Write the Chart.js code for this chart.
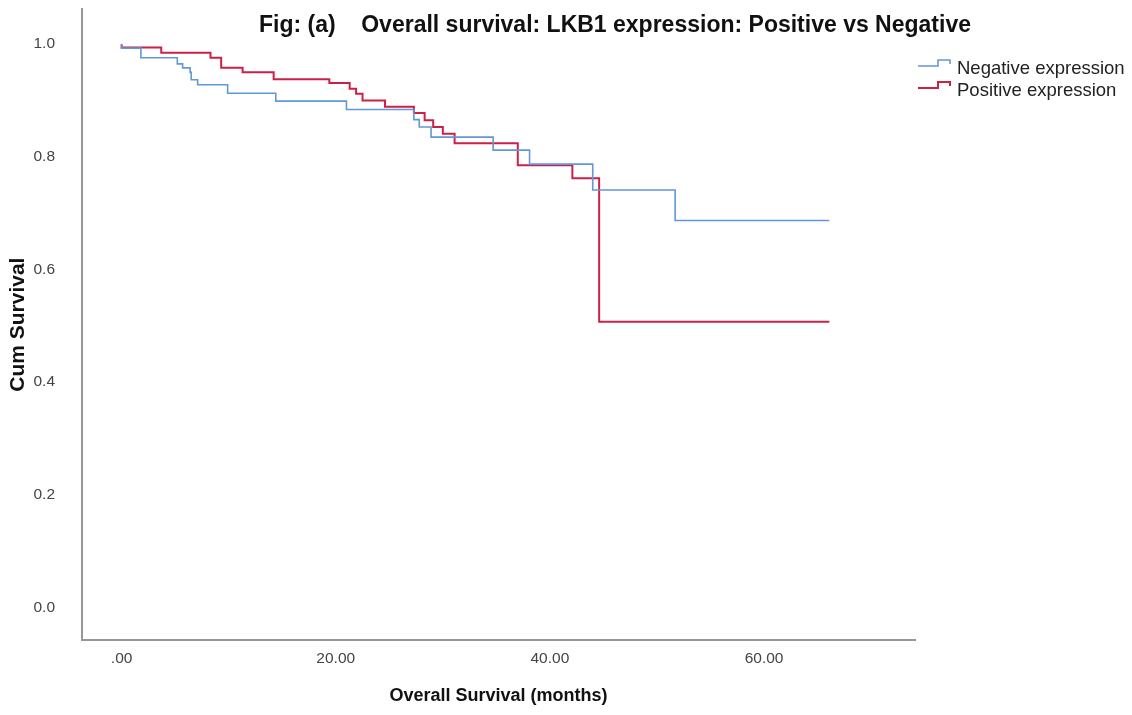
<!DOCTYPE html>
<html>
<head>
<meta charset="utf-8">
<script src="https://cdn.jsdelivr.net/npm/chart.js@4.4.1/dist/chart.umd.min.js"></script>
<style>
  html, body { margin: 0; padding: 0; background: #fff; }
  #wrap { position: relative; width: 1132px; height: 715px; overflow: hidden; }
  #c { position: absolute; left: 0; top: 0; }
  #title { position: absolute; left: 259px; top: 13px; font: bold 23px 'Liberation Sans', Arial, sans-serif; line-height: 23px; color: #111; white-space: pre; }
  .leg { position: absolute; left: 917px; height: 22px; font: 18.5px 'Liberation Sans', Arial, sans-serif; color: #222; white-space: pre; }
  .leg svg { position: absolute; left: 0; top: 0; }
  .leg span { position: absolute; left: 40px; top: 0; line-height: 22px; }
</style>
</head>
<body>
<div id="wrap">
  <canvas id="c" width="1132" height="715"></canvas>
  <div id="title"></div>
  <div id="legend"></div>
</div>
<script>
// ---- data ----
const chartTitle = 'Fig: (a)    Overall survival: LKB1 expression: Positive vs Negative';
const xAxisTitle = 'Overall Survival (months)';
const yAxisTitle = 'Cum Survival';

const seriesNames = ['Negative expression', 'Positive expression'];

// Negative expression: event times (months) and survival after each step
const negTimes = [0, 1.8, 5.2, 5.7, 6.4, 6.5, 7.1, 9.9, 14.4, 21.0, 27.3, 27.8, 28.9, 34.7, 38.1, 44.0, 51.7, 52.6, 66.1];
const negSurv  = [1.0, 0.993, 0.976, 0.965, 0.958, 0.950, 0.937, 0.928, 0.913, 0.899, 0.884, 0.866, 0.853, 0.835, 0.812, 0.787, 0.741, 0.687, 0.687];

// Positive expression
const posTimes = [0, 3.7, 8.3, 9.3, 11.3, 14.2, 19.4, 21.3, 21.9, 22.5, 24.6, 27.3, 28.3, 29.1, 30.0, 31.1, 37.0, 42.1, 44.6, 62.6, 66.1];
const posSurv  = [1.0, 0.994, 0.985, 0.976, 0.958, 0.950, 0.938, 0.931, 0.921, 0.912, 0.900, 0.889, 0.878, 0.865, 0.853, 0.841, 0.824, 0.785, 0.762, 0.507, 0.507];

const xTickValues = [0, 20, 40, 60];
const xTickLabels = ['.00', '20.00', '40.00', '60.00'];
const yTickValues = [0, 0.2, 0.4, 0.6, 0.8, 1.0];
const yTickLabels = ['0.0', '0.2', '0.4', '0.6', '0.8', '1.0'];

const xRange = [-3.7, 74.1];
const yRange = [-0.058, 1.062];

// ---- styles ----
const colors = ['rgb(98,152,214)', 'rgb(204,32,72)'];
const widths = [1.6, 2];
const axisColor = 'rgb(150,150,150)';
const hidden = 'rgba(0,0,0,0)';

function toPoints(xs, ys) { return xs.map((x, i) => ({ x: x, y: ys[i] })); }

const ctx = document.getElementById('c').getContext('2d');
new Chart(ctx, {
  type: 'line',
  data: {
    datasets: [
      { label: seriesNames[0], data: toPoints(negTimes, negSurv), borderColor: colors[0], borderWidth: widths[0],
        stepped: 'after', pointRadius: 0, fill: false, tension: 0 },
      { label: seriesNames[1], data: toPoints(posTimes, posSurv), borderColor: colors[1], borderWidth: widths[1],
        stepped: 'after', pointRadius: 0, fill: false, tension: 0 }
    ]
  },
  options: {
    responsive: false,
    animation: false,
    devicePixelRatio: 1,
    layout: { autoPadding: false, padding: { left: 0, top: 5, right: 217, bottom: 0 } },
    plugins: { legend: { display: false }, title: { display: false }, tooltip: { enabled: false } },
    scales: {
      x: {
        type: 'linear', min: xRange[0], max: xRange[1],
        afterBuildTicks: s => { s.ticks = xTickValues.map(v => ({ value: v })); },
        afterFit: s => { s.height = 75; },
        grid: { display: true, drawOnChartArea: false, drawTicks: true, tickLength: 9, tickColor: hidden },
        border: { display: true, color: axisColor, width: 2 },
        ticks: { padding: 0, color: '#444', font: { family: "'Liberation Sans', Arial", size: 15.5 },
                 callback: v => xTickLabels[xTickValues.indexOf(v)] },
        title: { display: true, text: xAxisTitle, color: '#111',
                 font: { family: "'Liberation Sans', Arial", size: 18, weight: 'bold' }, padding: { top: 4, bottom: 8 } }
      },
      y: {
        type: 'linear', min: yRange[0], max: yRange[1],
        afterBuildTicks: s => { s.ticks = yTickValues.map(v => ({ value: v })); },
        afterFit: s => { s.width = 82; },
        grid: { display: true, drawOnChartArea: false, drawTicks: true, tickLength: 27, tickColor: hidden },
        border: { display: true, color: axisColor, width: 2 },
        ticks: { padding: 0, color: '#444', font: { family: "'Liberation Sans', Arial", size: 15.5 },
                 callback: v => yTickLabels[yTickValues.indexOf(v)] },
        title: { display: true, text: yAxisTitle, color: '#111',
                 font: { family: "'Liberation Sans', Arial", size: 21, weight: 'bold' }, padding: { top: 6, bottom: 4 } }
      }
    }
  }
});

// title and legend as real text
document.getElementById('title').textContent = chartTitle;
const legendTops = [57, 79];
const legend = document.getElementById('legend');
seriesNames.forEach((name, i) => {
  const d = document.createElement('div');
  d.className = 'leg';
  d.style.top = legendTops[i] + 'px';
  d.innerHTML = '<svg width="36" height="22"><polyline points="1,9 21,9 21,3 33,3 33,7" fill="none" stroke="' +
    colors[i] + '" stroke-width="' + widths[i] + '"/></svg><span></span>';
  d.querySelector('span').textContent = name;
  legend.appendChild(d);
});
</script>
</body>
</html>
